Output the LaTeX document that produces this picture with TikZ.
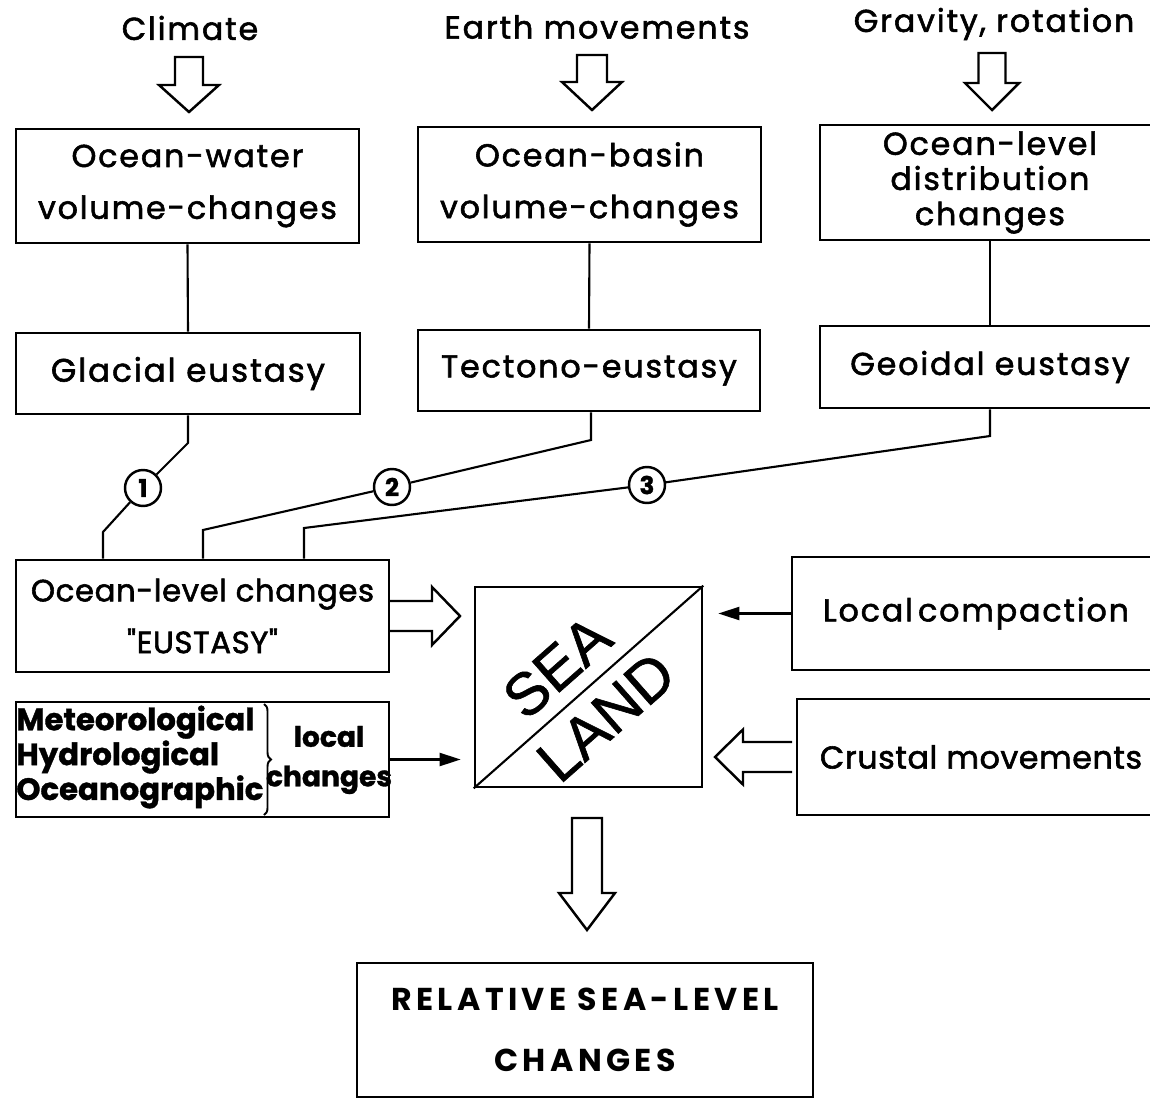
\documentclass[tikz,border=0pt]{standalone}
\usepackage{fontspec}
\setmainfont{Poppins}[LetterSpace=6, FakeBold=1.8]
\newfontfamily\tightfont{Poppins}[FakeBold=1.2]
\newfontfamily\medfont{Poppins}[LetterSpace=2, FakeBold=1.8]
\newfontfamily\widefont{Poppins}[LetterSpace=14]
\newfontfamily\seafont{Liberation Sans}[FakeBold=1]
\usetikzlibrary{arrows.meta,calc,decorations.pathreplacing}
\newcommand\blkdown[6]{% x, ytop, ybot, shaft half, head half, head length
  \draw[blk] (#1-#4,#2) -- (#1+#4,#2) -- (#1+#4,#3-#6) -- (#1+#5,#3-#6) -- (#1,#3) -- (#1-#5,#3-#6) -- (#1-#4,#3-#6) -- cycle;}
\newcommand\blkright[6]{% y, xtail, xtip, shaft half, head half, head length
  \draw[blk] (#2,#1-#4) -- (#3-#6,#1-#4) -- (#3-#6,#1-#5) -- (#3,#1) -- (#3-#6,#1+#5) -- (#3-#6,#1+#4) -- (#2,#1+#4);}
\newcommand\blkleft[6]{% y, xtail, xtip, shaft half, head half, head length
  \draw[blk] (#2,#1-#4) -- (#3+#6,#1-#4) -- (#3+#6,#1-#5) -- (#3,#1) -- (#3+#6,#1+#5) -- (#3+#6,#1+#4) -- (#2,#1+#4);}
\begin{document}
\begin{tikzpicture}[x=0.02cm,y=-0.02cm,
  box/.style 2 args={draw, line width=1.5pt, inner sep=0pt, align=center,
     minimum width=#1*0.02cm, minimum height=#2*0.02cm},
  conn/.style={line width=1.2pt},
  blk/.style={draw, line width=1.4pt, line join=miter},
  thinarr/.style={line width=1.2pt, -{Triangle[length=0.42cm,width=0.26cm]}},
  lbl/.style={font=\fontsize{18}{29.5}\selectfont},
  num/.style={circle, draw, line width=1.4pt, minimum size=0.72cm, inner sep=0pt,
     font=\tightfont\bfseries\fontsize{14}{14}\selectfont}]
\clip (0,0) rectangle (1150,1099);

% top labels
\node[lbl] (clim) at (190,28) {Climate};
\node[lbl] (earth) at (597,27) {Earth movements};
\node[lbl] (grav) at (994,24) {Gravity, rotation};

% top boxes
\node[box={343}{114}, lbl] (ow) at (187.5,186) {Ocean-water\\volume-changes};
\node[box={343}{115}, lbl] (ob) at (589.5,184.5) {Ocean-basin\\volume-changes};
\node[box={340}{115}, font=\fontsize{18}{20}\selectfont] (od) at (990,182.5) {Ocean-level\\distribution\\changes};

% eustasy boxes
\node[box={344}{81}, font=\fontsize{18.5}{20}\selectfont] (ge) at (188,373.5) {Glacial eustasy};
\node[box={342}{81}, lbl] (te) at (589,370.5) {Tectono-eustasy};
\node[box={340}{82}, lbl] (gd) at (990,367) {Geoidal eustasy};

% middle boxes
\node[box={373}{112}, font=\medfont\fontsize{17.5}{29.5}\selectfont] (eu) at (202.5,616) {Ocean-level changes\\"EUSTASY"};
\node[box={373}{115}] (me) at (202.5,759.5) {};
\node[box={227}{200}] (sl) at (588.5,687) {};
\node[box={368}{113}, lbl] (lc) at (976,613.5) {Local\,compaction};
\node[box={368}{116}, font=\medfont\fontsize{18}{20}\selectfont] (cm) at (981,757) {Crustal movements};
\node[box={456}{134}, font=\widefont\bfseries\fontsize{18}{35}\selectfont] (rs) at (585,1030) {RELATIVE SEA-LEVEL\\CHANGES};

% meteorological contents
\node[anchor=west, align=left, inner sep=0pt, font=\tightfont\bfseries\fontsize{17.5}{18}\selectfont] (met) at (16,757) {Meteorological\\Hydrological\\Oceanographic};
\draw[line width=1.1pt, decorate, decoration={brace, amplitude=4pt}] (264,704) -- (264,815);
\node[align=center, inner sep=0pt, font=\tightfont\bfseries\fontsize{16}{22.5}\selectfont] (loc) at (329,760) {local\\changes};

% sea / land
\draw[line width=1.2pt] (sl.south west) -- (sl.north east);
\node[font=\seafont\fontsize{34}{34}\selectfont, rotate=41.4] (sea) at (557,667) {SEA};
\node[font=\seafont\fontsize{34}{34}\selectfont, rotate=41.4] (land) at (606,717) {LAND};

% vertical connectors
\draw[conn] (ow.south) -- (ge.north);
\draw[conn] (ob.south) -- (te.north);
\draw[conn] (od.south) -- (gd.north);

% numbered connectors
\node[num] (c1) at (143,488) {1};
\node[num] (c2) at (392,487) {2};
\node[num] (c3) at (647,485) {3};
\coordinate (k1a) at (188,443);
\coordinate (k1b) at (103,532);
\coordinate (k2a) at (591,440);
\coordinate (k2b) at (203,530);
\coordinate (k3a) at (990,436);
\coordinate (k3b) at (304,528);
\draw[conn] (ge.south) -- (k1a) -- (c1);
\draw[conn] (c1) -- (k1b) -- (k1b |- eu.north);
\draw[conn] (te.south -| k2a) -- (k2a) -- (c2);
\draw[conn] (c2) -- (k2b) -- (k2b |- eu.north);
\draw[conn] (gd.south) -- (k3a) -- (c3);
\draw[conn] (c3) -- (k3b) -- (k3b |- eu.north);

% block arrows
\blkdown{189}{57}{112}{14}{30}{27}
\blkdown{592}{55}{110}{15}{30}{28}
\blkdown{992}{53}{110}{13.5}{27}{27}
\blkright{616}{389}{460}{15}{29}{28}
\blkleft{757}{792}{715}{15}{27.5}{28}
\blkdown{587}{818}{930}{15}{28}{37}

% thin arrows
\draw[thinarr] (lc.west) -- ($(sl.east |- lc.west)+(15,0)$);
\draw[thinarr] (me.east) -- ($(sl.west |- me.east)+(-13,0)$);
\end{tikzpicture}
\end{document}
